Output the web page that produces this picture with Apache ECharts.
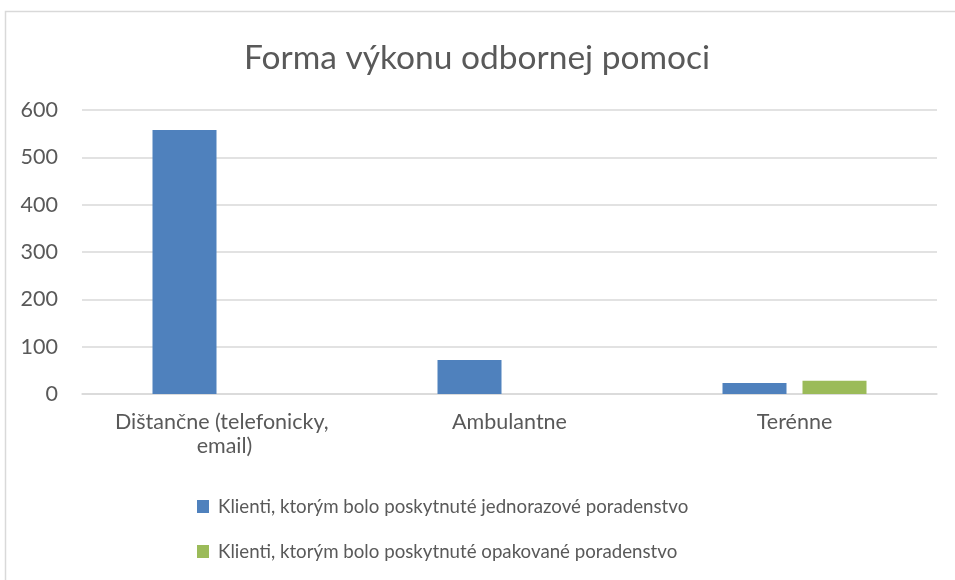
<!DOCTYPE html>
<html>
<head>
<meta charset="utf-8">
<style>
  html, body { margin: 0; padding: 0; background: #fff; }
  #chart { width: 955px; height: 580px; }
</style>
<script src="https://cdn.jsdelivr.net/npm/echarts@6/dist/echarts.min.js"></script>
</head>
<body>
<div id="chart"></div>
<script>
// === Данные
const CATEGORIES = ['Dištančne (telefonicky, email)', 'Ambulantne', 'Terénne'];
const SERIES_NAMES = [
    'Klienti, ktorým bolo poskytnuté jednorazové poradenstvo',
    'Klienti, ktorým bolo poskytnuté opakované poradenstvo'
];
const ONE_TIME = [558, 72, 23];
const REPEATED = [0, 0, 28];
const Y_TICKS = [0, 100, 200, 300, 400, 500, 600];

const FONT = 'Lato, "Open Sans", sans-serif';
const TEXT_COLOR = '#595959';
const GRID_COLOR = '#D9D9D9';

const chart = echarts.init(document.getElementById('chart'));

chart.setOption({
    animation: false,
    textStyle: { fontFamily: FONT, color: TEXT_COLOR },
    title: {
        text: 'Forma výkonu odbornej pomoci',
        left: 472,
        textAlign: 'center',
        top: 36,
        textStyle: { fontFamily: FONT, fontSize: 33.5, fontWeight: 'normal', color: TEXT_COLOR }
    },
    graphic: [{
        type: 'rect',
        shape: { x: 5.5, y: 11.5, width: 1000, height: 1000 },
        style: { fill: 'none', stroke: GRID_COLOR, lineWidth: 1.5 },
        silent: true
    }],
    legend: {
        orient: 'vertical',
        left: 192,
        top: 492,
        itemWidth: 12,
        itemHeight: 13,
        itemGap: 26,
        icon: 'rect',
        textStyle: { fontFamily: FONT, fontSize: 18.7, color: TEXT_COLOR, padding: [0, 0, 0, 4] },
        data: SERIES_NAMES
    },
    grid: { left: 82, right: 18, top: 110, bottom: 186, containLabel: false },
    xAxis: {
        type: 'category',
        data: CATEGORIES,
        axisLine: { lineStyle: { color: GRID_COLOR, width: 1.5 } },
        axisTick: { show: false },
        axisLabel: {
            fontFamily: FONT,
            fontSize: 21.5,
            color: TEXT_COLOR,
            margin: 16,
            lineHeight: 24,
            width: 250,
            overflow: 'break',
            interval: 0
        }
    },
    yAxis: {
        type: 'value',
        min: Y_TICKS[0],
        max: Y_TICKS[Y_TICKS.length - 1],
        interval: 100,
        axisLine: { show: false },
        axisTick: { show: false },
        splitLine: { lineStyle: { color: GRID_COLOR, width: 1.5 } },
        axisLabel: { fontFamily: FONT, fontSize: 21.5, color: TEXT_COLOR, margin: 24 }
    },
    series: [
        {
            name: SERIES_NAMES[0],
            type: 'bar',
            data: ONE_TIME,
            barWidth: 64,
            barGap: '25%',
            itemStyle: { color: '#4F81BD' }
        },
        {
            name: SERIES_NAMES[1],
            type: 'bar',
            data: REPEATED,
            barWidth: 64,
            barGap: '25%',
            itemStyle: { color: '#9BBB59' }
        }
    ]
});
</script>
</body>
</html>
